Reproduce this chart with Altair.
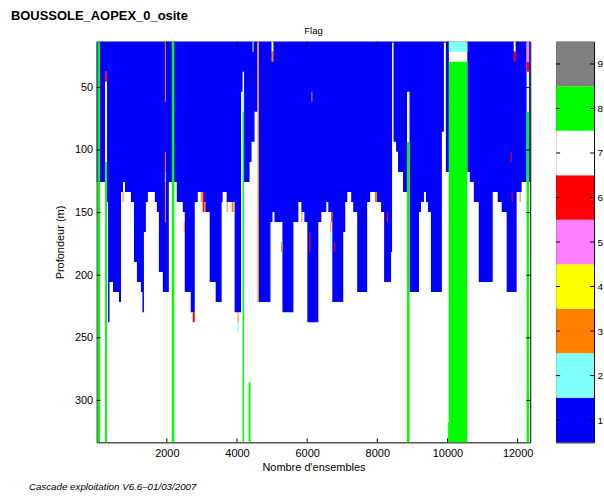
import altair as alt
import pandas as pd

FONT = "Liberation Sans"
FLAGS = ["1", "2", "3", "4", "5", "6", "7", "8", "9"]
FLAG_COLORS = ["#0000ff", "#80ffff", "#ff8000", "#ffff00", "#ff80ff",
               "#ff0000", "#ffffff", "#00ff00", "#808080"]

X_END = 12360
TOP, BOTTOM = 13.5, 333.5

# lower limit (depth, m) of the flag-1 (blue) zone, per run of ensembles
seg_start = [0, 97, 239, 295, 324, 366, 466, 636, 693, 750, 807, 977, 1063, 1148,
             1261, 1304, 1347, 1403, 1460, 1659, 1716, 1773, 1886, 2057, 2142, 2213,
             2284, 2455, 2511, 2682, 2796, 2881, 3023, 3080, 3222, 3392, 3563, 3591,
             3705, 3932, 4117, 4159, 4202, 4358, 4415, 4500, 4585, 4622, 4955, 5012,
             5069, 5296, 5608, 5750, 5835, 5921, 6006, 6319, 6404, 6546, 6603, 6717,
             7029, 7086, 7143, 7256, 7313, 7427, 7711, 7796, 7938, 8108, 8194, 8392,
             8421, 8463, 8535, 8591, 8733, 8847, 8918, 9188, 9245, 9330, 9387, 9444,
             9529, 9841, 9898, 9955, 10040, 10566, 10637, 10751, 10893, 11290, 11432,
             11546, 11688, 11972, 12114, 12256, 12327]
seg_bottom = [125.5, 125.5, 37.5, 141.5, 237.5, 205.5, 213.5, 221.5, 133.5, 125.5, 133.5,
              141.5, 189.5, 205.5, 213.5, 229.5, 165.5, 141.5, 133.5, 141.5, 149.5, 197.5,
              213.5, 125.5, 125.5, 125.5, 141.5, 149.5, 213.5, 229.5, 141.5, 133.5, 141.5,
              149.5, 205.5, 221.5, 141.5, 133.5, 141.5, 229.5, 53.5, 37.5, 125.5, 109.5,
              93.5, 69.5, 13.5, 221.5, 157.5, 149.5, 157.5, 229.5, 157.5, 141.5, 149.5,
              157.5, 237.5, 157.5, 149.5, 141.5, 149.5, 221.5, 165.5, 141.5, 133.5, 141.5,
              149.5, 213.5, 141.5, 133.5, 141.5, 149.5, 205.5, 181.5, 13.5, 93.5, 101.5,
              117.5, 133.5, 53.5, 213.5, 149.5, 141.5, 133.5, 141.5, 149.5, 213.5, 85.5,
              13.5, 117.5, 13.5, 117.5, 125.5, 141.5, 205.5, 133.5, 141.5, 149.5, 213.5,
              133.5, 125.5, 13.5, 125.5]

# other flags: ensemble from / to, depth from / to, flag
ov_x0 = [25, 239, 239, 1943, 1943, 1943, 1943, 2142, 736, 2739, 2966, 3023, 3080,
         3705, 3847, 4017, 4017, 4159, 4159, 4330, 4585, 4983, 4983, 6120, 6063,
         6660, 6660, 6688, 6773, 5835, 5257, 7938, 8279, 11802, 11830, 11888, 11888,
         12057, 12256, 12256, 12256, 10040, 10040, 10011, 8847, 4444, 2483]
ov_x1 = [95, 295, 295, 1972, 1972, 1972, 1972, 2213, 765, 2796, 2995, 3066, 3108,
         3733, 3904, 4046, 4046, 4202, 4202, 4387, 4622, 5040, 5040, 6148, 6092,
         6688, 6688, 6717, 6802, 5864, 5296, 7995, 8307, 11830, 11859, 11944, 11944,
         12086, 12327, 12327, 12327, 10566, 10566, 10040, 8918, 4472, 2511]
ov_d0 = [13.5, 37.5, 109.5, 13.5, 101.5, 117.5, 125.5, 13.5, 133.5, 229.5, 133.5,
         133.5, 141.5, 141.5, 141.5, 229.5, 237.5, 53.5, 69.5, 285.5, 13.5, 13.5, 21.5,
         53.5, 165.5, 157.5, 165.5, 149.5, 173.5, 149.5, 173.5, 133.5, 149.5, 101.5,
         133.5, 13.5, 21.5, 133.5, 13.5, 29.5, 69.5, 13.5, 29.5, 317.5, 93.5, 13.5, 157.5]
ov_d1 = [333.5, 45.5, 333.5, 61.5, 117.5, 125.5, 157.5, 333.5, 141.5, 237.5, 141.5,
         149.5, 149.5, 149.5, 149.5, 237.5, 245.5, 69.5, 333.5, 333.5, 221.5, 21.5, 29.5,
         61.5, 181.5, 165.5, 181.5, 157.5, 181.5, 157.5, 181.5, 141.5, 157.5, 109.5,
         141.5, 21.5, 29.5, 141.5, 29.5, 37.5, 333.5, 21.5, 333.5, 333.5, 333.5, 21.5, 165.5]
ov_flag = ["8", "6", "8", "3", "3", "2", "3", "8", "3", "6", "3", "6", "3",
           "3", "3", "3", "2", "2", "8", "8", "3", "7", "3", "3", "6",
           "3", "2", "6", "6", "3", "3", "3", "6", "6", "6", "7", "6",
           "3", "5", "6", "8", "2", "8", "8", "8", "7", "3"]

x_ticks = [2000, 4000, 6000, 8000, 10000, 12000]
y_ticks = [50, 100, 150, 200, 250, 300]
cb_levels = [1, 2, 3, 4, 5, 6, 7, 8, 9]

W, H = 435, 402
CBW = 38

xs = alt.Scale(domain=[0, X_END], nice=False, zero=False)
ys = alt.Scale(domain=[TOP, BOTTOM], nice=False, zero=False, reverse=True)
cs = alt.Scale(domain=FLAGS, range=FLAG_COLORS)

blue_df = pd.DataFrame({
    "x": seg_start + [X_END],
    "d": seg_bottom + [seg_bottom[-1]],
    "top": [TOP] * (len(seg_start) + 1),
    "flag": ["1"] * (len(seg_start) + 1),
})
ov_df = pd.DataFrame({"x0": ov_x0, "x1": ov_x1, "d0": ov_d0, "d1": ov_d1, "flag": ov_flag})

blue = alt.Chart(blue_df).mark_area(interpolate="step-after").encode(
    x=alt.X("x:Q", scale=xs, title="Nombre d'ensembles",
            axis=alt.Axis(values=x_ticks, format="d", labelPadding=5, titlePadding=3)),
    y=alt.Y("d:Q", scale=ys, title="Profondeur (m)",
            axis=alt.Axis(values=y_ticks, format="d", labelPadding=4, titlePadding=9)),
    y2="top:Q",
    color=alt.Color("flag:N", scale=cs, legend=None),
)

over = alt.Chart(ov_df).mark_rect().encode(
    x=alt.X("x0:Q", scale=xs), x2="x1:Q",
    y=alt.Y("d0:Q", scale=ys), y2="d1:Q",
    color=alt.Color("flag:N", scale=cs, legend=None),
)

xt = alt.Chart(pd.DataFrame({"v": x_ticks}))
yt = alt.Chart(pd.DataFrame({"v": y_ticks}))
tb = xt.mark_rule(color="black").encode(x=alt.X("v:Q", scale=xs),
                                        y=alt.value(H), y2=alt.value(H - 4))
tt = xt.mark_rule(color="black").encode(x=alt.X("v:Q", scale=xs),
                                        y=alt.value(0), y2=alt.value(4))
tl = yt.mark_rule(color="black").encode(y=alt.Y("v:Q", scale=ys),
                                        x=alt.value(0), x2=alt.value(4))
tr = yt.mark_rule(color="black").encode(y=alt.Y("v:Q", scale=ys),
                                        x=alt.value(W - 4), x2=alt.value(W))

title_t = alt.Chart(pd.DataFrame({"t": ["BOUSSOLE_AOPEX_0_osite"]})).mark_text(
    align="left", baseline="alphabetic", fontSize=13, fontWeight="bold", font=FONT,
    color="black").encode(text="t:N", x=alt.value(-86), y=alt.value(-21.5))
flag_t = alt.Chart(pd.DataFrame({"t": ["Flag"]})).mark_text(
    align="center", baseline="middle", fontSize=9.5, font=FONT, color="black"
).encode(text="t:N", x=alt.value(W / 2), y=alt.value(-11))
foot_t = alt.Chart(pd.DataFrame({"t": ["Cascade exploitation V6.6\u201301/03/2007"]})).mark_text(
    align="left", baseline="middle", fontSize=9.8, fontStyle="italic", font=FONT,
    color="black").encode(text="t:N", x=alt.value(-68), y=alt.value(447))

main = alt.layer(blue, over, tb, tt, tl, tr, title_t, flag_t, foot_t).properties(
    width=W, height=H)

cb_df = pd.DataFrame({
    "lo": [k - 0.5 for k in cb_levels],
    "hi": [k + 0.5 for k in cb_levels],
    "flag": FLAGS,
})
cbs = alt.Scale(domain=[0.5, 9.5], nice=False, zero=False)
cb_rect = alt.Chart(cb_df).mark_rect().encode(
    y=alt.Y("lo:Q", scale=cbs, title=None,
            axis=alt.Axis(orient="right", values=cb_levels, labelFontSize=10,
                          labelPadding=3, format="d")),
    y2="hi:Q",
    x=alt.value(0), x2=alt.value(CBW),
    color=alt.Color("flag:N", scale=cs, legend=None),
)
ct = alt.Chart(pd.DataFrame({"v": cb_levels}))
cbl = ct.mark_rule(color="black").encode(y=alt.Y("v:Q", scale=cbs),
                                         x=alt.value(0), x2=alt.value(4))
cbr = ct.mark_rule(color="black").encode(y=alt.Y("v:Q", scale=cbs),
                                         x=alt.value(CBW - 4), x2=alt.value(CBW))
cbar = alt.layer(cb_rect, cbl, cbr).properties(width=CBW, height=H)

chart = alt.hconcat(main, cbar, spacing=21).properties(
    padding={"left": 10, "top": 9, "right": 0, "bottom": 0},
    background="white",
).configure(
    font=FONT
).configure_view(
    stroke="black", strokeWidth=1
).configure_axis(
    ticks=False, domain=False, grid=False, labelFontSize=11, titleFontSize=11,
    titleFontWeight="normal", labelColor="black", titleColor="black",
    labelFont=FONT, titleFont=FONT,
)

chart.save("out.html", embed_options={"renderer": "svg", "actions": False})
